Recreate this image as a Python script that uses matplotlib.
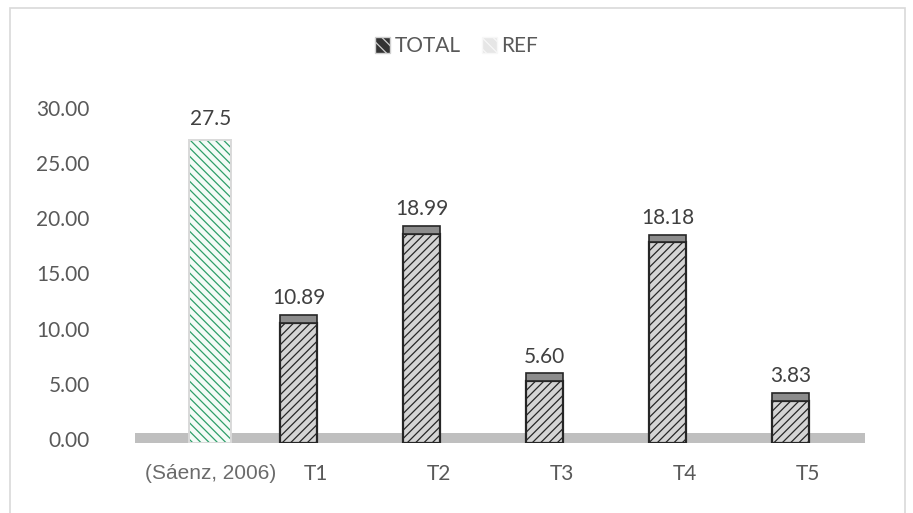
import matplotlib.pyplot as plt
import matplotlib.transforms as mtransforms
from matplotlib.patches import Patch, Rectangle
import numpy as np

plt.rcParams['font.family'] = ['Lato', 'DejaVu Sans']
plt.rcParams['hatch.linewidth'] = 0.9

# data
categories = ['(Sáenz, 2006)', 'T1', 'T2', 'T3', 'T4', 'T5']
total_vals = [np.nan, 10.89, 18.99, 5.60, 18.18, 3.83]
total_labels = ['', '10.89', '18.99', '5.60', '18.18', '3.83']
ref_vals = [27.5, np.nan, np.nan, np.nan, np.nan, np.nan]
ref_labels = ['27.5', '', '', '', '', '']
yticks = [0, 5, 10, 15, 20, 25, 30]

fig = plt.figure(figsize=(9.13, 5.13), dpi=100)
ax = fig.add_axes([0.144, 0.1365, 0.808, 0.645])

# chart frame
fig.patches.append(Rectangle((10 / 913, -0.01), 895 / 913, 1 - 8 / 513 + 0.01,
                             transform=fig.transFigure, fill=False,
                             edgecolor='#d9d9d9', linewidth=1.2))

x = np.arange(len(categories))
w = 0.30
off = 0.14

# floor
ax.axhspan(0, 0.9, xmin=0.005, xmax=0.995, color='#bfbfbf', zorder=1, linewidth=0)

# TOTAL bars
ax.bar(x - off, total_vals, w, color='#d4d4d4', edgecolor='#262626',
       hatch='////', linewidth=0, zorder=2)
ax.bar(x - off, total_vals, w, fill=False, edgecolor='#262626',
       linewidth=1.6, zorder=3)
# top cap of the 3D column
ax.bar(x - off, [0.7] * len(x), w, bottom=total_vals, color='#8c8c8c',
       edgecolor='#262626', linewidth=1.2, zorder=3)

# REF bar
ax.bar(x + off, ref_vals, w + 0.04, color='#f4fbf7', edgecolor='#2e9e6a',
       hatch='\\\\\\\\', linewidth=0, zorder=2)
ax.bar(x + off, ref_vals, w + 0.04, fill=False, edgecolor='#d9d9d9',
       linewidth=1.4, zorder=3)

# data labels
for xi, v, s in zip(x - off, total_vals, total_labels):
    if s:
        ax.annotate(s, (xi, v + 0.7), xytext=(0, 5), textcoords='offset points',
                    ha='center', va='bottom', fontsize=15, color='#404040')
for xi, v, s in zip(x + off, ref_vals, ref_labels):
    if s:
        ax.annotate(s, (xi, v + 0.3), xytext=(0, 5), textcoords='offset points',
                    ha='center', va='bottom', fontsize=15, color='#404040')

ax.set_xlim(-0.5, len(categories) - 0.5)
ax.set_ylim(0, 30)
ax.set_yticks(yticks)
ax.set_yticklabels([f'{t:.2f}' for t in yticks], fontsize=15, color='#595959')
ax.set_xticks(x[1:])
ax.set_xticklabels(categories[1:], fontsize=15, color='#595959')
# first category label sits under the REF column
ax.annotate(categories[0], (x[0] + off, 0), xycoords=('data', 'axes fraction'),
            xytext=(0, -15), textcoords='offset points', ha='center', va='top',
            fontsize=15, color='#6b6b6b', family=['Liberation Sans', 'DejaVu Sans'])
ax.tick_params(axis='y', length=0, pad=30)
ax.tick_params(axis='x', length=0, pad=15)
for lbl in ax.get_yticklabels():
    lbl.set_transform(lbl.get_transform() +
                      mtransforms.ScaledTranslation(0, 3 / 72, fig.dpi_scale_trans))
for sp in ax.spines.values():
    sp.set_visible(False)

handles = [Patch(facecolor='#333333', edgecolor='#cfcfcf', hatch='\\\\\\', label='TOTAL'),
           Patch(facecolor='#e6e6e6', edgecolor='#f7f7f7', hatch='\\\\\\', label='REF')]
fig.legend(handles=handles, loc='center', bbox_to_anchor=(0.5, 0.91), ncol=2,
           frameon=False, fontsize=15, handlelength=0.75, handleheight=0.75,
           handletextpad=0.2, columnspacing=1.0, labelcolor='#595959')

fig.savefig('out.png', dpi=100)
